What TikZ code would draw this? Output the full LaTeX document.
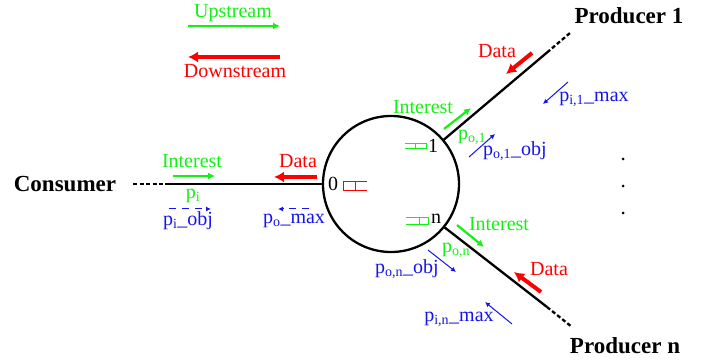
\documentclass[tikz,border=0pt]{standalone}
\usepackage{fontspec}
\setmainfont{Liberation Serif}
\usetikzlibrary{arrows.meta}
\definecolor{upgreen}{RGB}{20,240,20}
\definecolor{dnred}{RGB}{255,0,0}
\definecolor{pblue}{RGB}{20,20,235}
\begin{document}
\begin{tikzpicture}[x=1pt,y=-1pt,
  lbl/.style={inner sep=0pt, font=\fontsize{20}{24}\selectfont},
  bold/.style={inner sep=0pt, font=\fontsize{23}{27}\selectfont\bfseries},
  glbl/.style={lbl, text=upgreen},
  rlbl/.style={lbl, text=dnred},
  blbl/.style={lbl, text=pblue},
  link/.style={line width=2.3pt, black},
  linkdash/.style={line width=2.3pt, black, dash pattern=on 4pt off 2.5pt},
  garrow/.style={upgreen, line width=2.2pt, -{Latex[length=7pt,width=7pt]}},
  rarrow/.style={dnred, line width=4pt, -{Latex[length=10pt,width=11pt]}},
  barrow/.style={pblue, line width=1pt, -{Latex[length=5pt,width=5pt]}},
  bdarrow/.style={barrow, dash pattern=on 7pt off 6pt},
  rbuf/.style={dnred, line width=1pt},
  gbuf/.style={upgreen, line width=1pt},
  dotmark/.style={circle, fill=black, inner sep=0pt, minimum size=3pt}
]
\useasboundingbox (0,0) rectangle (711,363);

% router
\node[draw, line width=2.3pt, circle, minimum size=136pt, inner sep=0pt] (router) at (391,184) {};
\coordinate (p0) at (router.180);
\coordinate (p1) at (router.40);
\coordinate (pn) at (router.-39);

% end coordinates
\coordinate (cend) at (133,184);
\coordinate (cmid) at (165,184);
\coordinate (p1end) at (570,33);
\coordinate (p1mid) at (547,52.5);
\coordinate (pnend) at (572,327);
\coordinate (pnmid) at (547,307);

\draw[link] (cmid) -- (p0);
\draw[linkdash] (cend) -- (cmid);
\draw[link] (p1) -- (p1mid);
\draw[linkdash] (p1mid) -- (p1end);
\draw[link] (pn) -- (pnmid);
\draw[linkdash] (pnmid) -- (pnend);

% endpoint names
\node[bold] (consumer) at (65,184) {Consumer};
\node[bold] (prod1) at (629,16) {Producer 1};
\node[bold] (prodn) at (625,346) {Producer n};

% port labels
\node[lbl] (l0) at (333,184) {0};
\node[lbl] (l1) at (433,146) {1};
\node[lbl] (ln) at (436,219) {n};

% buffers
\draw[rbuf] (367,181.5) -- (343,181.5) -- (343,191) -- (367,191);
\draw[rbuf] (355,181.5) -- (355,191);
\draw[gbuf] (405,143.5) -- (426,143.5) -- (426,149) -- (405,149);
\draw[gbuf] (415,143.5) -- (415,149);
\draw[gbuf] (406,218) -- (428,218) -- (428,224) -- (406,224);
\draw[gbuf] (419,218) -- (419,224);

% legend
\node[glbl] (up) at (233,13) {Upstream};
\node[rlbl] (down) at (235,71) {Downstream};
\coordinate (ua) at (188,26); \coordinate (ub) at (280,26);
\coordinate (da) at (280,57); \coordinate (db) at (188,57);
\draw[garrow] (ua) -- (ub);
\draw[rarrow] (da) -- (db);

% consumer side
\node[glbl] (ci) at (192,161) {Interest};
\node[rlbl] (cd) at (298,161) {Data};
\node[glbl] (cpi) at (193,196) {p\textsubscript{i}};
\node[blbl] (cpobj) at (188,221) {p\textsubscript{i}\_obj};
\node[blbl] (cpmax) at (294,221) {p\textsubscript{o}\_max};
\coordinate (cia) at (173,176); \coordinate (cib) at (215,176);
\coordinate (cda) at (317,177); \coordinate (cdb) at (274,177);
\coordinate (coa) at (169,209); \coordinate (cob) at (211,209);
\coordinate (cma) at (309,209); \coordinate (cmb) at (278,209);
\draw[garrow] (cia) -- (cib);
\draw[rarrow] (cda) -- (cdb);
\draw[bdarrow] (coa) -- (cob);
\draw[bdarrow] (cma) -- (cmb);

% producer 1 side
\node[glbl] (p1i) at (423,107) {Interest};
\node[rlbl] (p1d) at (497,51) {Data};
\node[glbl] (p1po) at (472,137) {p\textsubscript{o,1}};
\node[blbl] (p1obj) at (515,151) {p\textsubscript{o,1}\_obj};
\node[blbl] (p1max) at (594,99) {p\textsubscript{i,1}\_max};
\coordinate (p1ia) at (444,129); \coordinate (p1ib) at (471,108);
\coordinate (p1da) at (532,53); \coordinate (p1db) at (506,74);
\coordinate (p1oa) at (469,157); \coordinate (p1ob) at (495,134);
\coordinate (p1ma) at (568,82); \coordinate (p1mb) at (543,104);
\draw[garrow] (p1ia) -- (p1ib);
\draw[rarrow] (p1da) -- (p1db);
\draw[barrow] (p1oa) -- (p1ob);
\draw[barrow] (p1ma) -- (p1mb);

% producer n side
\node[glbl] (pni) at (499,224) {Interest};
\node[glbl] (pnpo) at (456,250) {p\textsubscript{o,n}};
\node[rlbl] (pnd) at (549,269) {Data};
\node[blbl] (pnobj) at (407,269) {p\textsubscript{o,n}\_obj};
\node[blbl] (pnmax) at (459,319) {p\textsubscript{i,n}\_max};
\coordinate (pnia) at (457,225); \coordinate (pnib) at (484,247);
\coordinate (pnda) at (541,292); \coordinate (pndb) at (514,272);
\coordinate (pnoa) at (428,250); \coordinate (pnob) at (456,272);
\coordinate (pnma) at (512,324); \coordinate (pnmb) at (485,302);
\draw[garrow] (pnia) -- (pnib);
\draw[rarrow] (pnda) -- (pndb);
\draw[barrow] (pnoa) -- (pnob);
\draw[barrow] (pnma) -- (pnmb);

% vertical dots
\node[dotmark] (d1) at (623,159) {};
\node[dotmark] (d2) at (623,186) {};
\node[dotmark] (d3) at (623,213) {};
\end{tikzpicture}
\end{document}
